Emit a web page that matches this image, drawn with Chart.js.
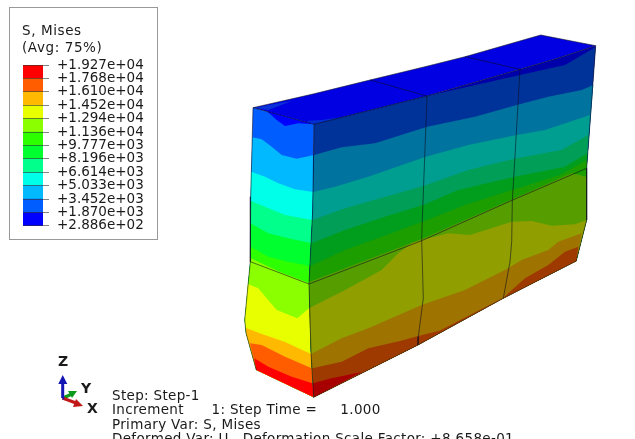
<!DOCTYPE html>
<html>
<head>
<meta charset="utf-8">
<title>S, Mises</title>
<script src="https://cdn.jsdelivr.net/npm/chart.js@4"></script>
<style>
    html, body { margin: 0; padding: 0; background: #fff; }
    #page { position: relative; width: 635px; height: 439px; overflow: hidden; font-family: "DejaVu Sans", sans-serif; font-size: 13.5px; color: #1a1a1a; }
    #page canvas { position: absolute; left: 0; top: 0; }
    #legendBox { position: absolute; left: 9px; top: 7px; width: 147px; height: 231px; border: 1px solid #999; }
    .txt { position: absolute; white-space: pre; line-height: 16px; letter-spacing: 0.33px; }
    .wide { letter-spacing: 0.6px; }
    .axis { font-weight: bold; font-size: 14px; letter-spacing: 0; }
</style>
</head>
<body>
<div id="page">
    <div id="legendBox"></div>
    <canvas id="bodyChart" width="635" height="439"></canvas>
    <canvas id="legendChart" width="150" height="242"></canvas>
    <div class="txt wide" style="left:22px;top:22px">S, Mises</div>
    <div class="txt wide" style="left:22px;top:39px">(Avg: 75%)</div>
    <div class="txt axis" style="left:58px;top:353px">Z</div>
    <div class="txt axis" style="left:81px;top:380px">Y</div>
    <div class="txt axis" style="left:87px;top:400px">X</div>
    <div class="txt" style="left:112px;top:387px">Step: Step-1</div>
    <div class="txt" style="left:112px;top:401px">Increment      1: Step Time =     1.000</div>
    <div class="txt" style="left:112px;top:416px">Primary Var: S, Mises</div>
    <div class="txt" style="left:112px;top:430px">Deformed Var: U   Deformation Scale Factor: +8.658e-01</div>
</div>
<script>
// Legend values, low to high
const legendTicks = [288.6, 1870, 3452, 5033, 6614, 8196, 9777, 11360, 12940, 14520, 16100, 17680, 19270];
const legendLabels = ['+2.886e+02', '+1.870e+03', '+3.452e+03', '+5.033e+03', '+6.614e+03', '+8.196e+03', '+9.777e+03',
    '+1.136e+04', '+1.294e+04', '+1.452e+04', '+1.610e+04', '+1.768e+04', '+1.927e+04'];
const bandColors = ['#0000ff', '#005dff', '#00b9ff', '#00ffe8', '#00ff8b', '#00ff2e', '#2eff00', '#8bff00', '#e8ff00', '#ffb900', '#ff5d00', '#ff0000'];
const shadedColors = ['#0000aa', '#003399', '#00739e', '#009e90', '#009e56', '#009e1c', '#1c9e00', '#569e00', '#909e00', '#9e7300', '#9e3a00', '#a80000'];

// Outline of the block
const topEdge = [[253, 107.7], [313, 94], [370, 80], [425, 66.7], [465, 56.7], [540.7, 35], [595.7, 45.7]];
const ridgeEdge = [[314, 124.3], [427, 96], [520, 69.3], [560, 57.5], [595.7, 45.7]];
const cornerEdge = [[253, 107.7], [314, 124.3]];
const frontEdge = [[314, 124.3], [312.7, 210], [309, 284], [311, 353], [313.7, 397.3]];
const leftEdge = [[253, 107.7], [250.7, 196.7], [250.3, 261.7], [244.7, 320], [246, 333], [256.3, 370]];
const rightEdge = [[595.7, 45.7], [586.7, 168.3], [586.7, 220], [576.3, 261]];
const rightBottom = [[503.3, 298.3], [418, 345], [313.7, 397.3]];
const leftBottom = [[256.3, 370]];

// Element edges on the block
const midSeam = [[250.3, 261.7], [309, 284], [421.7, 240.7], [512.7, 200], [586.7, 168.3]];
const seamOne = [[427, 96], [422.3, 220], [421.7, 240], [423.3, 298.3], [418.3, 336.7], [418, 345]];
const seamTwo = [[520, 69.3], [516.7, 126.7], [512.3, 201.7], [511.7, 241.7], [510, 261.7], [503.3, 298.3]];
const topSeamOne = [[370, 80], [427, 96]];
const topSeamTwo = [[465, 56.7], [520, 69.3]];

// Contour lines on the left face, each starts band 2, 3, ... 11
const leftContours = [
    [[252.3, 137.3], [261.7, 139.3], [271.7, 146.7], [281.7, 155], [296.7, 158.7], [314, 155]],
    [[251, 171.7], [265, 176.7], [278.3, 183.3], [295, 189.3], [313.3, 192]],
    [[250.3, 200.7], [265, 206.7], [285, 215], [312.3, 220]],
    [[250.3, 223.3], [268.3, 233.3], [288.3, 238.3], [311.7, 243.3]],
    [[250.3, 246.7], [268.3, 256.7], [288.3, 261.7], [310.3, 266]],
    [[250.3, 258], [280, 272], [309, 283]],
    [[247.7, 284], [258.3, 288.3], [266.7, 298.3], [276.7, 310], [297.3, 318.3], [309, 308.3]],
    [[246, 328], [262, 334], [285, 342], [311, 354]],
    [[250, 343.3], [261.7, 345], [285, 356.7], [311.7, 368.3]],
    [[254.3, 358.3], [268.3, 366.7], [291.7, 376.7], [312.3, 383.3]]
];

// Contour lines on the right face, each starts band 1, 2, ... 11
const rightContours = [
    [[427, 96], [520, 75], [565, 65], [595.7, 47]],
    [[314, 155], [341.7, 147.3], [375, 143.3], [427.3, 126.7], [475, 116.7], [516.7, 105], [548.3, 96.7], [581.7, 90], [593.3, 85]],
    [[313.3, 192], [335, 186.7], [368.3, 176.7], [425, 157], [468.3, 145], [516.7, 135], [545, 130], [590, 115]],
    [[312.3, 220], [345, 208.3], [423.3, 186], [468.3, 170], [516.7, 158.3], [561.7, 150], [588.3, 135]],
    [[311.7, 243.3], [345, 230], [385, 216.7], [423.3, 205], [458.3, 190], [515, 176.7], [565, 166.7], [587.3, 153.3]],
    [[310.3, 266], [345, 250], [381.7, 236.7], [421.7, 222], [465, 205], [512.3, 190], [560, 175], [586.7, 160]],
    [[309, 282], [421.7, 239], [512.7, 199], [571.7, 173.3], [586.7, 176.7]],
    [[309, 308.3], [345, 290], [381.7, 270], [398.3, 253.3], [411.7, 243.3], [421.7, 240], [448.3, 233.3], [470, 235], [511.7, 221.7], [531.7, 221], [551.7, 225.7], [575, 224.3], [586.7, 220]],
    [[311, 354], [341.7, 338.3], [368.3, 328.3], [421.7, 305], [465, 290], [505, 270], [521.7, 260], [548.3, 250], [558.3, 241.7], [581.7, 233.3]],
    [[312.3, 368.3], [341.7, 361.7], [368.3, 348.3], [400, 341], [418.3, 336], [440, 330.5], [503, 298], [525, 278.3], [548.3, 265], [565, 251.7], [578.3, 246.7]],
    [[312.7, 383.3], [331.7, 378.3], [361.7, 372]]
];

// Lighter and darker patches on the top
const topFace = [[253, 107.7], [313, 94], [370, 80], [425, 66.7], [465, 56.7], [540.7, 35], [595.7, 45.7], [560, 57.5], [520, 69.3], [427, 96], [314, 124.3]];
const cornerPatch = [[253, 107.7], [291.7, 101], [268.3, 110]];
const ridgePatch = [[306.7, 120.7], [314, 124.3], [348, 116], [322, 120]];
const leftPatch = [[266.7, 111], [276.7, 120], [285, 126], [298.3, 123.3], [314, 124.3], [290, 117.8]];

// Triad arrows
const zShaft = [[62.5, 398], [62.7, 381]];
const zHead = [[62.7, 375], [58.3, 384], [67.3, 384]];
const yShaft = [[63, 398], [72, 394]];
const yHead = [[77, 391], [68, 391], [72, 398]];
const xShaft = [[62.5, 398], [76, 403]];
const xHead = [[83, 406], [73, 407], [76, 399]];

const toPoints = (pts) => pts.map(([x, y]) => ({ x, y }));

// Contour line closed along the lower part of a face
const bandShape = (line, sideDown, bottom, sideUp) => {
    const first = line[0];
    const last = line[line.length - 1];
    return [
        ...line,
        ...sideDown.filter(p => p[1] > last[1]),
        ...bottom.filter(p => p[0] < last[0]),
        ...[...sideUp].reverse().filter(p => p[1] > first[1])
    ];
};

const area = (pts, color) => ({
    data: toPoints(pts),
    showLine: true,
    fill: 'shape',
    backgroundColor: color,
    borderWidth: 0,
    pointRadius: 0
});

const stroke = (pts, color, width) => ({
    data: toPoints(pts),
    showLine: true,
    fill: false,
    borderColor: color,
    borderWidth: width,
    pointRadius: 0
});

// Painted in this order, later ones on top
const layers = [];
layers.push(area(topFace, '#0000e2'));
layers.push(area(cornerPatch, '#0a30d8'));
layers.push(area(ridgePatch, '#0030d0'));

layers.push(area(bandShape(cornerEdge, frontEdge, leftBottom, leftEdge), bandColors[1]));
layers.push(area(leftPatch, bandColors[0]));
leftContours.forEach((line, i) => {
    layers.push(area(bandShape(line, frontEdge, leftBottom, leftEdge), bandColors[i + 2]));
});

layers.push(area(bandShape(ridgeEdge, rightEdge, rightBottom, frontEdge), shadedColors[0]));
rightContours.forEach((line, i) => {
    layers.push(area(bandShape(line, rightEdge, rightBottom, frontEdge), shadedColors[i + 1]));
});

[topEdge, ridgeEdge, cornerEdge, frontEdge, leftEdge, rightEdge, midSeam, seamOne, seamTwo, topSeamOne, topSeamTwo].forEach(line => {
    layers.push(stroke(line, 'rgba(10,10,30,0.7)', 0.8));
});
layers.push(stroke([[313.7, 397.3], [418, 345], [503.3, 298.3], [576.3, 261]], 'rgba(60,20,10,0.7)', 0.8));

layers.push(stroke(yShaft, '#0b9a1c', 3.5));
layers.push(area(yHead, '#0b9a1c'));
layers.push(stroke(xShaft, '#c01818', 3));
layers.push(area(xHead, '#c01818'));
layers.push(stroke(zShaft, '#1414b4', 3));
layers.push(area(zHead, '#1414b4'));

// Chart.js paints the first dataset last
new Chart(document.getElementById('bodyChart'), {
    type: 'scatter',
    data: { datasets: layers.reverse() },
    options: {
        responsive: false,
        animation: false,
        layout: { padding: 0 },
        plugins: { legend: { display: false }, tooltip: { enabled: false } },
        scales: {
            x: { type: 'linear', min: 0, max: 635, display: false },
            y: { type: 'linear', min: 0, max: 439, reverse: true, display: false }
        }
    }
});

new Chart(document.getElementById('legendChart'), {
    type: 'bar',
    data: {
        labels: ['S'],
        datasets: bandColors.map((color, i) => ({
            data: [[legendTicks[i], legendTicks[i + 1]]],
            backgroundColor: color,
            borderWidth: 0,
            barPercentage: 1,
            categoryPercentage: 1,
            grouped: false
        }))
    },
    options: {
        responsive: false,
        animation: false,
        layout: { padding: { left: 23, right: 6, top: 65, bottom: 11 } },
        plugins: { legend: { display: false }, tooltip: { enabled: false } },
        scales: {
            x: { display: false },
            y: {
                position: 'right',
                min: legendTicks[0],
                max: legendTicks[legendTicks.length - 1],
                border: { display: false },
                grid: { color: 'rgba(50,50,50,0.6)', lineWidth: 1, z: 1, tickLength: 6 },
                afterBuildTicks: (scale) => { scale.ticks = legendTicks.map(value => ({ value })); },
                afterFit: (scale) => { scale.width = 101; },
                ticks: {
                    autoSkip: false,
                    padding: 8,
                    color: '#1a1a1a',
                    font: { family: '"DejaVu Sans", sans-serif', size: 13.5 },
                    callback: (value, index) => legendLabels[index]
                }
            }
        }
    }
});
</script>
</body>
</html>
